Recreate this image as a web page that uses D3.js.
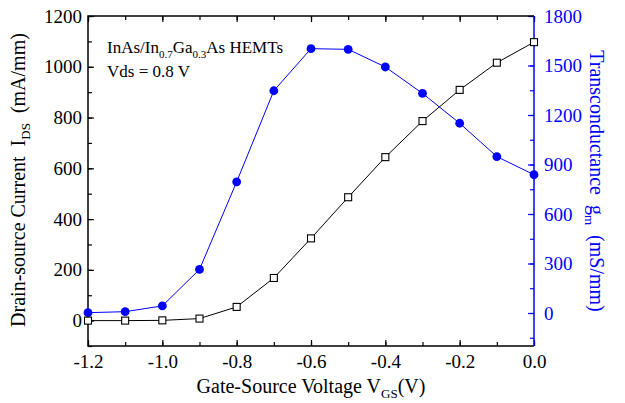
<!DOCTYPE html>
<html>
<head>
<meta charset="utf-8">
<script src="https://cdn.jsdelivr.net/npm/d3@7"></script>
<style>
  body { margin: 0; background: #fff; }
  text { font-family: "Liberation Serif", "Times New Roman", "DejaVu Serif", serif; white-space: pre; }
</style>
</head>
<body>
<div id="chart"></div>
<script>
// data
var vgs = [-1.2, -1.1, -1.0, -0.9, -0.8, -0.7, -0.6, -0.5, -0.4, -0.3, -0.2, -0.1, 0.0];
var ids = [0, 0, 1, 8, 54, 168, 324, 486, 644, 786, 909, 1016, 1097];
var gm = [2, 8, 43, 264, 795, 1347, 1602, 1598, 1491, 1331, 1150, 948, 838];

var xTicks = [-1.2, -1.0, -0.8, -0.6, -0.4, -0.2, 0.0];
var yLeftTicks = [0, 200, 400, 600, 800, 1000, 1200];
var yRightTicks = [0, 300, 600, 900, 1200, 1500, 1800];

var svgWidth = 625;
var svgHeight = 403;
var margin = { top: 16, right: 91, bottom: 57, left: 88 };
var width = svgWidth - margin.left - margin.right;
var height = svgHeight - margin.top - margin.bottom;
var blue = "#0000ff";

var svg = d3.select("#chart")
  .append("svg")
  .attr("width", svgWidth)
  .attr("height", svgHeight);

var chartGroup = svg.append("g")
  .attr("transform", `translate(${margin.left}, ${margin.top})`);

var x = d3.scaleLinear().domain([-1.2, 0]).range([0, width]);
var yL = d3.scaleLinear().domain([-100, 1200]).range([height, 0]);
var yR = d3.scaleLinear().domain([-200, 1800]).range([height, 0]);

var fmtX = d => d3.format(".1f")(d).replace("−", "-");

// axes with inward ticks (major + minor)
function styleAxis(g, color) {
  g.attr("font-family", null);
  g.select(".domain").remove();
  g.selectAll("line").attr("stroke", color).attr("stroke-width", 1.2);
  g.selectAll("text").attr("fill", color).attr("font-size", 19);
}

// bottom
chartGroup.append("g").attr("transform", `translate(0, ${height})`)
  .call(d3.axisBottom(x).tickValues(d3.range(-12, 1).map(d => d / 10)).tickSize(-4).tickFormat(""))
  .call(g => styleAxis(g, "#000"));
chartGroup.append("g").attr("transform", `translate(0, ${height})`)
  .call(d3.axisBottom(x).tickValues(xTicks).tickSize(-6).tickPadding(9).tickFormat(fmtX))
  .call(g => styleAxis(g, "#000"));

// top
chartGroup.append("g")
  .call(d3.axisTop(x).tickValues(d3.range(-12, 1).map(d => d / 10)).tickSize(-4).tickFormat(""))
  .call(g => styleAxis(g, "#000"));
chartGroup.append("g")
  .call(d3.axisTop(x).tickValues(xTicks).tickSize(-6).tickFormat(""))
  .call(g => styleAxis(g, "#000"));

// left
chartGroup.append("g")
  .call(d3.axisLeft(yL).tickValues(d3.range(-100, 1201, 100)).tickSize(-4).tickFormat(""))
  .call(g => styleAxis(g, "#000"));
chartGroup.append("g")
  .call(d3.axisLeft(yL).tickValues(yLeftTicks).tickSize(-6).tickPadding(6).tickFormat(d3.format("d")))
  .call(g => styleAxis(g, "#000"));

// right
chartGroup.append("g").attr("transform", `translate(${width}, 0)`)
  .call(d3.axisRight(yR).tickValues(d3.range(-150, 1801, 150)).tickSize(-4).tickFormat(""))
  .call(g => styleAxis(g, blue));
chartGroup.append("g").attr("transform", `translate(${width}, 0)`)
  .call(d3.axisRight(yR).tickValues(yRightTicks).tickSize(-6).tickPadding(10).tickFormat(d3.format("d")))
  .call(g => styleAxis(g, blue));

// frame
chartGroup.append("path")
  .attr("d", `M${width},0 H0 V${height} H${width}`)
  .attr("fill", "none").attr("stroke", "#000").attr("stroke-width", 1.5);
chartGroup.append("line")
  .attr("x1", width).attr("x2", width).attr("y1", 0).attr("y2", height)
  .attr("stroke", blue).attr("stroke-width", 1.5);

// gm line (blue)
var gmLine = d3.line().x((d, i) => x(vgs[i])).y(d => yR(d));
chartGroup.append("path").datum(gm)
  .attr("d", gmLine).attr("fill", "none").attr("stroke", blue).attr("stroke-width", 1);
chartGroup.append("g").selectAll("circle")
  .data(gm).enter().append("circle")
  .attr("cx", (d, i) => x(vgs[i]))
  .attr("cy", d => yR(d))
  .attr("r", 4.4)
  .attr("fill", blue);

// Ids line (black)
var idsLine = d3.line().x((d, i) => x(vgs[i])).y(d => yL(d));
chartGroup.append("path").datum(ids)
  .attr("d", idsLine).attr("fill", "none").attr("stroke", "#000").attr("stroke-width", 1);
chartGroup.append("g").selectAll("rect")
  .data(ids).enter().append("rect")
  .attr("x", (d, i) => x(vgs[i]) - 3.5)
  .attr("y", d => yL(d) - 3.5)
  .attr("width", 7).attr("height", 7)
  .attr("fill", "#fff").attr("stroke", "#000").attr("stroke-width", 1.1);

// annotation
var note = svg.append("text").attr("x", 107).attr("y", 53).attr("font-size", 17);
note.append("tspan").text("InAs/In");
note.append("tspan").attr("font-size", 11).attr("dy", 5).text("0.7");
note.append("tspan").attr("dy", -5).text("Ga");
note.append("tspan").attr("font-size", 11).attr("dy", 5).text("0.3");
note.append("tspan").attr("dy", -5).text("As HEMTs");
svg.append("text").attr("x", 107).attr("y", 77).attr("font-size", 17).text("Vds = 0.8 V");

// x label
var xl = svg.append("text").attr("x", 311).attr("y", 393).attr("text-anchor", "middle").attr("font-size", 20);
xl.append("tspan").text("Gate-Source Voltage V");
xl.append("tspan").attr("font-size", 13).attr("dy", 5).text("GS");
xl.append("tspan").attr("dy", -5).text("(V)");

// left y label
var yl = svg.append("text").attr("transform", "translate(25, 180) rotate(-90)")
  .attr("text-anchor", "middle").attr("font-size", 20);
yl.append("tspan").text("Drain-source Current  I");
yl.append("tspan").attr("font-size", 13).attr("dy", 5).text("DS");
yl.append("tspan").attr("dy", -5).text("  (mA/mm)");

// right y label
var yr = svg.append("text").attr("transform", "translate(590, 181) rotate(90)")
  .attr("text-anchor", "middle").attr("font-size", 20).attr("fill", blue);
yr.append("tspan").text("Transconductance  g");
yr.append("tspan").attr("font-size", 13).attr("dy", 5).text("m");
yr.append("tspan").attr("dy", -5).text("  (mS/mm)");
</script>
</body>
</html>
